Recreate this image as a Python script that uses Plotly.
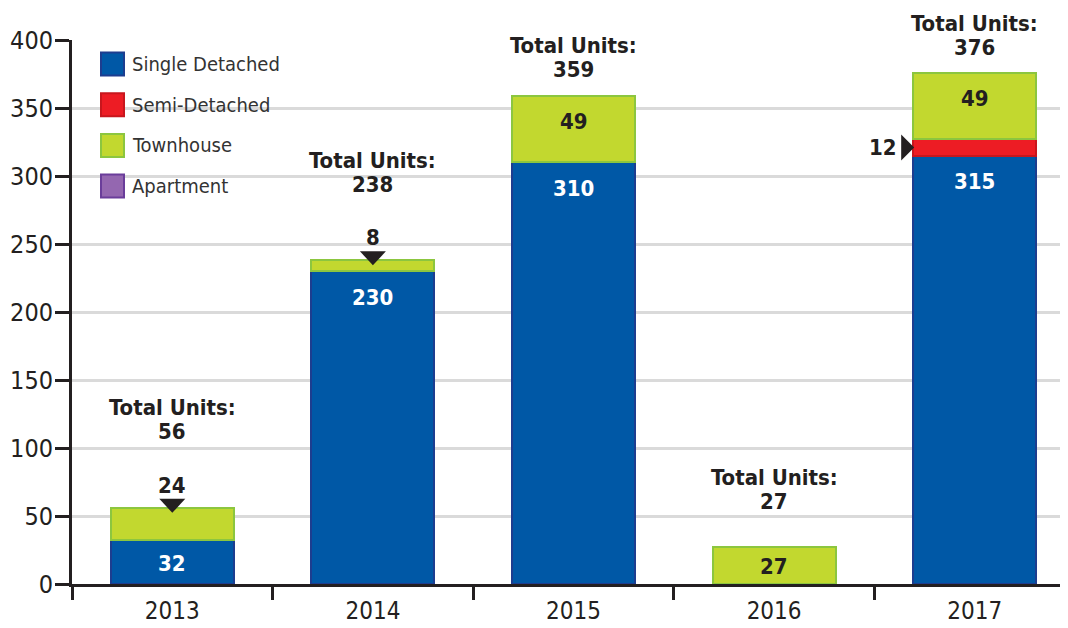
import plotly.graph_objects as go

# ---------------- data ----------------
years = ["2013", "2014", "2015", "2016", "2017"]
series_names = ["Single Detached", "Semi-Detached", "Townhouse", "Apartment"]
single_detached = [32, 230, 310, 0, 315]
semi_detached = [0, 0, 0, 0, 12]
townhouse = [24, 8, 49, 27, 49]
apartment = [0, 0, 0, 0, 0]
y_tick_values = [0, 50, 100, 150, 200, 250, 300, 350, 400]
total_label = "Total Units:"

series_values = [single_detached, semi_detached, townhouse, apartment]
totals = [sum(v) for v in zip(*series_values)]

# ---------------- style ----------------
FONT = "Noto Sans Condensed, DejaVu Sans Condensed, Liberation Sans Narrow, sans-serif"
INK = "#231F20"
fills = ["#0058A6", "#ED1C24", "#C2D82F", "#9467B0"]
borders = ["#1D3D8F", "#C8161D", "#8CC63F", "#6A3D9A"]
label_colors = ["white", INK, INK, "white"]

# the page body adds an 8px offset, so the figure is 8px smaller than the window
W, H = 1060, 620
ML, MR, MT, MB = 64, 0, 32, 44
PLOT_H = H - MT - MB
PX_PER_UNIT = PLOT_H / 400.0
CAT_PX = 200.6
PLOT_W = W - ML - MR
BARGAP = 0.387
HALF_BAR = CAT_PX * (1 - BARGAP) / 2
total_lift = [62, 61, 12, 31, 11]  # pixel lift of total labels above the bar top
LBL = 22

fig = go.Figure()
for name, vals, fc, bc in zip(series_names, series_values, fills, borders):
    fig.add_trace(go.Bar(
        x=years, y=[v if v > 0 else None for v in vals], name=name,
        marker=dict(color=fc, line=dict(color=bc, width=2)),
        showlegend=False, hoverinfo="x+y+name",
    ))

annotations = []
shapes = []

# segment labels (category axes use the serial index for annotation positions)
bottoms = [0] * len(years)
for s, vals in enumerate(series_values):
    for i, v in enumerate(vals):
        if v <= 0:
            continue
        top = bottoms[i] + v
        if v >= 25:
            annotations.append(dict(
                x=i, y=top, xref="x", yref="y", text=str(v), showarrow=False,
                yanchor="middle", yshift=-min(26, v * PX_PER_UNIT / 2 + 1),
                font=dict(family=FONT, size=LBL, color=label_colors[s], weight="bold"),
            ))
        elif top == totals[i]:
            annotations.append(dict(
                x=i, y=top, xref="x", yref="y", text=str(v), showarrow=False,
                yanchor="bottom", yshift=8,
                font=dict(family=FONT, size=LBL, color=INK, weight="bold"),
            ))
            shapes.append(dict(
                type="path", xref="x", yref="y", xsizemode="pixel", ysizemode="pixel",
                xanchor=i, yanchor=top,
                path="M -13,9 L 13,9 L 0,-5 Z",
                fillcolor=INK, line=dict(width=0),
            ))
        else:
            mid = bottoms[i] + v / 2
            annotations.append(dict(
                x=i, y=mid, xref="x", yref="y", text=str(v), showarrow=False,
                xanchor="right", yanchor="middle", xshift=-HALF_BAR - 14,
                font=dict(family=FONT, size=LBL, color=INK, weight="bold"),
            ))
            shapes.append(dict(
                type="path", xref="x", yref="y", xsizemode="pixel", ysizemode="pixel",
                xanchor=i, yanchor=mid,
                path=f"M {-HALF_BAR - 12},13 L {-HALF_BAR - 12},-13 L {-HALF_BAR + 1},0 Z",
                fillcolor=INK, line=dict(width=0),
            ))
        bottoms[i] = top

# total labels
for i, t in enumerate(totals):
    annotations.append(dict(
        x=i, y=t, xref="x", yref="y", text=str(t), showarrow=False,
        yanchor="bottom", yshift=total_lift[i],
        font=dict(family=FONT, size=LBL, color=INK, weight="bold"),
    ))
    annotations.append(dict(
        x=i, y=t, xref="x", yref="y", text=total_label, showarrow=False,
        yanchor="bottom", yshift=total_lift[i] + 24,
        font=dict(family=FONT, size=LBL, color=INK, weight="bold"),
    ))

# manual legend
ROW0, ROW_STEP = 24, 40.7
for k, (name, fc, bc) in enumerate(zip(series_names, fills, borders)):
    cy = -(ROW0 + ROW_STEP * k)
    shapes.append(dict(
        type="rect", xref="paper", yref="paper", xsizemode="pixel", ysizemode="pixel",
        xanchor=0, yanchor=1, x0=29, x1=52, y0=cy - 11.5, y1=cy + 11.5,
        fillcolor=fc, line=dict(color=bc, width=2),
    ))
    annotations.append(dict(
        x=0, y=1, xref="paper", yref="paper", xshift=58, yshift=cy,
        xanchor="left", yanchor="middle", text=name, showarrow=False,
        font=dict(family=FONT, size=20, color="#333333"),
    ))

fig.update_layout(
    width=W, height=H,
    margin=dict(l=ML, r=MR, t=MT, b=MB, pad=0),
    barmode="stack", bargap=BARGAP,
    plot_bgcolor="white", paper_bgcolor="white",
    font=dict(family=FONT, size=24, color=INK),
    annotations=annotations, shapes=shapes,
    xaxis=dict(
        type="category", range=[-0.5, -0.5 + PLOT_W / CAT_PX],
        showline=True, linecolor=INK, linewidth=3,
        ticks="outside", tickson="boundaries", ticklen=13, tickwidth=2.5, tickcolor=INK,
        tickfont=dict(family=FONT, size=24, color=INK), ticklabelstandoff=3,
        showgrid=False, zeroline=False, fixedrange=True,
    ),
    yaxis=dict(
        range=[0, 400], tickvals=y_tick_values,
        showline=True, linecolor=INK, linewidth=3,
        ticks="outside", ticklen=14, tickwidth=2.5, tickcolor=INK,
        tickfont=dict(family=FONT, size=25, color=INK), ticklabelstandoff=-3,
        showgrid=True, gridcolor="#DADADA", gridwidth=2.5,
        zeroline=False, fixedrange=True,
    ),
)

fig.write_html("out.html")
